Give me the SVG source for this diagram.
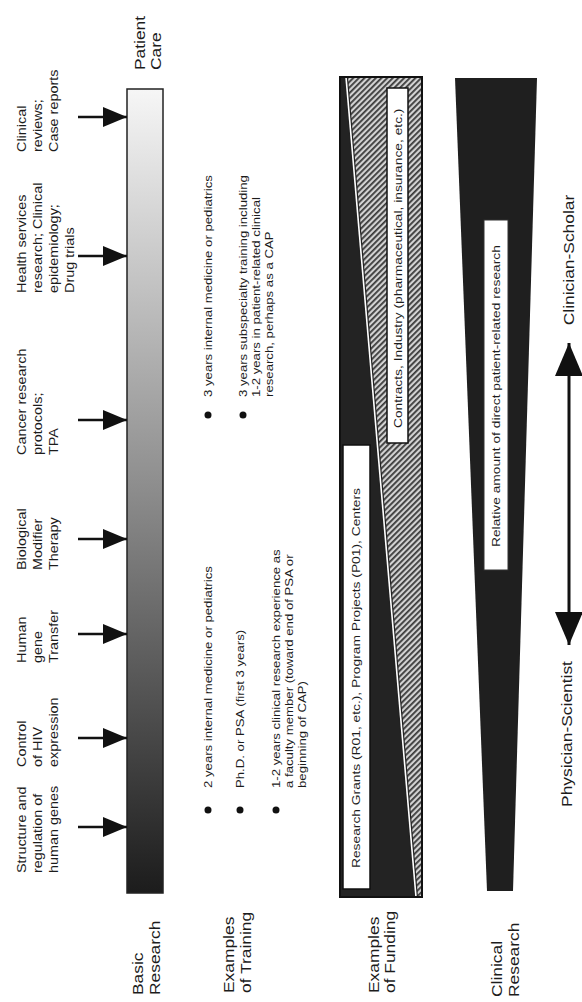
<svg xmlns="http://www.w3.org/2000/svg" width="582" height="1002" viewBox="0 0 582 1002">
<defs>
<style>
text{font-family:"Liberation Sans",Arial,sans-serif;fill:#1c1c1c}
.lbl{font-size:12px}
.trn{font-size:11px}
.box{font-size:11.5px}
.hdr{font-size:14.5px}
.side{font-size:14.5px}
.arrow{stroke:#111;stroke-width:2.5;fill:none}
</style>
<linearGradient id="grad" x1="0" y1="0" x2="0" y2="1">
<stop offset="0" stop-color="#f6f6f6"/>
<stop offset="0.5" stop-color="#8c8c8c"/>
<stop offset="1" stop-color="#1c1c1c"/>
</linearGradient>
<pattern id="hatch" width="4" height="4" patternUnits="userSpaceOnUse" patternTransform="rotate(45)">
<rect width="4" height="4" fill="#d2d2d2"/>
<rect width="1.8" height="4" fill="#3a3a3a"/>
</pattern>
<marker id="ah" viewBox="0 0 24 20" refX="24" refY="10" markerWidth="24" markerHeight="20" markerUnits="userSpaceOnUse" orient="auto">
<path d="M0,0 L24,10 L0,20 z" fill="#111"/>
</marker>
<marker id="dah" viewBox="0 0 33 28" refX="33" refY="14" markerWidth="33" markerHeight="28" markerUnits="userSpaceOnUse" orient="auto-start-reverse">
<path d="M0,0 L33,14 L0,28 z" fill="#111"/>
</marker>
</defs>
<rect width="582" height="1002" fill="#fff"/>

<g id="basic-research-bar">
<rect x="127" y="89" width="36" height="804" fill="url(#grad)" stroke="#222" stroke-width="1.5"/>
</g>

<g id="connectors">
<line class="arrow" x1="78" y1="117" x2="127" y2="117" marker-end="url(#ah)"/>
<line class="arrow" x1="78" y1="256" x2="127" y2="256" marker-end="url(#ah)"/>
<line class="arrow" x1="78" y1="420" x2="127" y2="420" marker-end="url(#ah)"/>
<line class="arrow" x1="78" y1="539" x2="127" y2="539" marker-end="url(#ah)"/>
<line class="arrow" x1="78" y1="634" x2="127" y2="634" marker-end="url(#ah)"/>
<line class="arrow" x1="78" y1="738" x2="127" y2="738" marker-end="url(#ah)"/>
<line class="arrow" x1="78" y1="827" x2="127" y2="827" marker-end="url(#ah)"/>
<line x1="569" y1="343" x2="569" y2="645" stroke="#111" stroke-width="3" marker-start="url(#dah)" marker-end="url(#dah)"/>
</g>

<g id="labels">
<text class="lbl" transform="translate(26,152) rotate(-90) scale(1.2,1)"><tspan x="0" y="0">Clinical</tspan><tspan x="0" dy="16">reviews;</tspan><tspan x="0" dy="16">Case reports</tspan></text>
<text class="lbl" transform="translate(26,293) rotate(-90) scale(1.2,1)"><tspan x="0" y="0">Health services</tspan><tspan x="0" dy="16">research; Clinical</tspan><tspan x="0" dy="16">epidemiology;</tspan><tspan x="0" dy="16">Drug trials</tspan></text>
<text class="lbl" transform="translate(26,455) rotate(-90) scale(1.2,1)"><tspan x="0" y="0">Cancer research</tspan><tspan x="0" dy="16">protocols;</tspan><tspan x="0" dy="16">TPA</tspan></text>
<text class="lbl" transform="translate(26,570) rotate(-90) scale(1.2,1)"><tspan x="0" y="0">Biological</tspan><tspan x="0" dy="16">Modifier</tspan><tspan x="0" dy="16">Therapy</tspan></text>
<text class="lbl" transform="translate(26,663) rotate(-90) scale(1.2,1)"><tspan x="0" y="0">Human</tspan><tspan x="0" dy="16">gene</tspan><tspan x="0" dy="16">Transfer</tspan></text>
<text class="lbl" transform="translate(26,767) rotate(-90) scale(1.2,1)"><tspan x="0" y="0">Control</tspan><tspan x="0" dy="16">of HIV</tspan><tspan x="0" dy="16">expression</tspan></text>
<text class="lbl" transform="translate(26,873) rotate(-90) scale(1.2,1)"><tspan x="0" y="0">Structure and</tspan><tspan x="0" dy="16">regulation of</tspan><tspan x="0" dy="16">human genes</tspan></text>
</g>

<g id="headers">
<text class="hdr" transform="translate(145,70) rotate(-90) scale(1.2,1)"><tspan x="0" y="0">Patient</tspan><tspan x="0" dy="16">Care</tspan></text>
<text class="hdr" transform="translate(143,995) rotate(-90) scale(1.2,1)"><tspan x="0" y="0">Basic</tspan><tspan x="0" dy="17">Research</tspan></text>
<text class="hdr" transform="translate(234,993) rotate(-90) scale(1.2,1)"><tspan x="0" y="0">Examples</tspan><tspan x="0" dy="17">of Training</tspan></text>
<text class="hdr" transform="translate(379,993) rotate(-90) scale(1.2,1)"><tspan x="0" y="0">Examples</tspan><tspan x="0" dy="16">of Funding</tspan></text>
<text class="hdr" transform="translate(502,997) rotate(-90) scale(1.2,1)"><tspan x="0" y="0">Clinical</tspan><tspan x="0" dy="17">Research</tspan></text>
</g>

<g id="training">
<g fill="#111">
<circle cx="208" cy="415" r="3.5"/>
<circle cx="243" cy="415" r="3.5"/>
<circle cx="208" cy="810" r="3.5"/>
<circle cx="240" cy="810" r="3.5"/>
<circle cx="276" cy="810" r="3.5"/>
</g>
<text class="trn" transform="translate(212,397) rotate(-90) scale(1.2,1)">3 years internal medicine or pediatrics</text>
<text class="trn" transform="translate(247,397) rotate(-90) scale(1.2,1)"><tspan x="0" y="0">3 years subspecialty training including</tspan><tspan x="0" dy="13">1-2 years in patient-related clinical</tspan><tspan x="0" dy="13">research, perhaps as a CAP</tspan></text>
<text class="trn" transform="translate(212,788) rotate(-90) scale(1.2,1)">2 years internal medicine or pediatrics</text>
<text class="trn" transform="translate(244,788) rotate(-90) scale(1.2,1)">Ph.D. or PSA (first 3 years)</text>
<text class="trn" transform="translate(280,788) rotate(-90) scale(1.2,1)"><tspan x="0" y="0">1-2 years clinical research experience as</tspan><tspan x="0" dy="13">a faculty member (toward end of PSA or</tspan><tspan x="0" dy="13">beginning of CAP)</tspan></text>
</g>

<g id="funding-bar">
<rect x="340" y="77" width="82" height="820" fill="url(#hatch)"/>
<polygon points="340,77 345,77 415,897 340,897" fill="#232323"/>
<line x1="346" y1="77" x2="416" y2="897" stroke="#222" stroke-width="4"/>
<line x1="346" y1="77" x2="416" y2="897" stroke="#fff" stroke-width="1.6"/>
<rect x="340" y="77" width="82" height="820" fill="none" stroke="#111" stroke-width="2"/>
<rect x="343" y="445" width="27" height="444" fill="#fff" stroke="#111" stroke-width="1.5"/>
<rect x="387" y="88" width="21" height="355" fill="#fff" stroke="#111" stroke-width="1.5"/>
<text class="box" transform="translate(360,868) rotate(-90) scale(1.2,1)">Research Grants (R01, etc.), Program Projects (P01), Centers</text>
<text class="box" transform="translate(401.5,428) rotate(-90) scale(1.2,1)">Contracts, Industry (pharmaceutical, insurance, etc.)</text>
</g>

<g id="clinical-research-wedge">
<polygon points="455,78 537,78 513,891 487,891" fill="#1f1f1f"/>
<rect x="484" y="220" width="24" height="350" fill="#fff" stroke="#333" stroke-width="1"/>
<text class="box" transform="translate(500,547) rotate(-90) scale(1.2,1)">Relative amount of direct patient-related research</text>
</g>

<g id="scale-labels">
<text class="side" text-anchor="middle" transform="translate(574,260) rotate(-90) scale(1.2,1)">Clinician-Scholar</text>
<text class="side" text-anchor="middle" transform="translate(572,734) rotate(-90) scale(1.2,1)">Physician-Scientist</text>
</g>
</svg>
